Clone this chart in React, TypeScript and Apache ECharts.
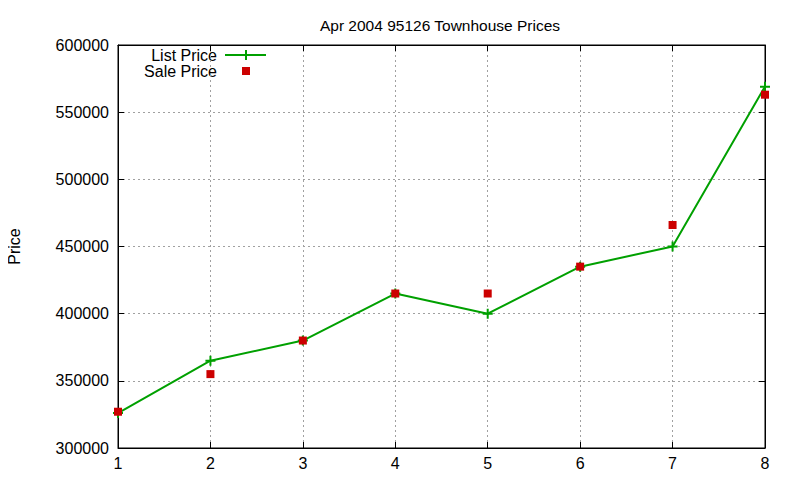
import { useEffect, useRef } from 'react';
import * as echarts from 'echarts';

const positions = [1, 2, 3, 4, 5, 6, 7, 8];
const listPrice = [326000, 365000, 380000, 415000, 400000, 435000, 450000, 569000];
const salePrice = [327000, 355000, 380000, 415000, 415000, 435000, 466000, 563000];

const GREEN = '#00a000';
const RED = '#cc0000';
const FONT = '"Liberation Sans", Arial, sans-serif';
const PLUS = 'path://M4,0H6V4H10V6H6V10H4V6H0V4H4Z';

export default function App() {
    const ref = useRef<HTMLDivElement | null>(null);

    useEffect(() => {
        if (!ref.current) return;
        const chart = echarts.init(ref.current, null, { renderer: 'svg' });
        const tickStyle = { show: true, inside: true, length: 6, lineStyle: { color: '#000' } };
        const gridLines = { show: true, lineStyle: { color: '#a0a0a0', type: [2, 3] as number[], width: 1 } };
        chart.setOption({
            animation: false,
            textStyle: { fontFamily: FONT },
            title: {
                text: 'Apr 2004 95126 Townhouse Prices',
                left: 435, top: 12, textAlign: 'center',
                textStyle: { fontSize: 15.5, fontWeight: 'normal', color: '#000', fontFamily: FONT }
            },
            grid: {
                left: 118, right: 35, top: 45, bottom: 32, show: true,
                borderColor: '#000', borderWidth: 1, containLabel: false, outerBoundsMode: 'none'
            },
            xAxis: [
                {
                    type: 'value', min: 1, max: 8, interval: 1,
                    axisLine: { show: true, onZero: false, lineStyle: { color: '#000' } },
                    axisTick: tickStyle,
                    axisLabel: { color: '#000', fontSize: 16, margin: 7, fontFamily: FONT },
                    splitLine: gridLines
                },
                {
                    type: 'value', position: 'top', min: 1, max: 8, interval: 1,
                    axisLine: { show: true, onZero: false, lineStyle: { color: '#000' } },
                    axisTick: tickStyle, axisLabel: { show: false }, splitLine: { show: false }
                }
            ],
            yAxis: [
                {
                    type: 'value', min: 300000, max: 600000, interval: 50000,
                    name: 'Price', nameLocation: 'middle', nameGap: 96, nameRotate: 90,
                    nameTextStyle: { color: '#000', fontSize: 16, fontFamily: FONT },
                    axisLine: { show: true, onZero: false, lineStyle: { color: '#000' } },
                    axisTick: tickStyle,
                    axisLabel: { color: '#000', fontSize: 16, margin: 9, fontFamily: FONT, formatter: (v: number) => String(v) },
                    splitLine: gridLines
                },
                {
                    type: 'value', position: 'right', min: 300000, max: 600000, interval: 50000,
                    axisLine: { show: true, onZero: false, lineStyle: { color: '#000' } },
                    axisTick: tickStyle, axisLabel: { show: false }, splitLine: { show: false }
                }
            ],
            graphic: [
                { type: 'text', x: 217, y: 55, style: { text: 'List Price', fill: '#000', font: `16px ${FONT}`, align: 'right', verticalAlign: 'middle' } },
                { type: 'text', x: 217, y: 71, style: { text: 'Sale Price', fill: '#000', font: `16px ${FONT}`, align: 'right', verticalAlign: 'middle' } },
                { type: 'line', shape: { x1: 225, y1: 55, x2: 266, y2: 55 }, style: { stroke: GREEN, lineWidth: 2 } },
                { type: 'rect', shape: { x: 241, y: 54, width: 10, height: 2 }, style: { fill: GREEN } },
                { type: 'rect', shape: { x: 245, y: 50, width: 2, height: 10 }, style: { fill: GREEN } },
                { type: 'rect', shape: { x: 242, y: 67, width: 8, height: 8 }, style: { fill: RED } }
            ],
            series: [
                {
                    name: 'List Price', type: 'line',
                    data: positions.map((p, i) => [p, listPrice[i]]),
                    symbol: PLUS, symbolSize: 10, showAllSymbol: true,
                    lineStyle: { color: GREEN, width: 2 },
                    itemStyle: { color: GREEN }
                },
                {
                    name: 'Sale Price', type: 'scatter',
                    data: positions.map((p, i) => [p, salePrice[i]]),
                    symbol: 'rect', symbolSize: 8,
                    itemStyle: { color: RED, opacity: 1 },
                    z: 3
                }
            ]
        });
        return () => chart.dispose();
    }, []);

    return <div ref={ref} style={{ width: 800, height: 480, margin: -8 }} />;
}
